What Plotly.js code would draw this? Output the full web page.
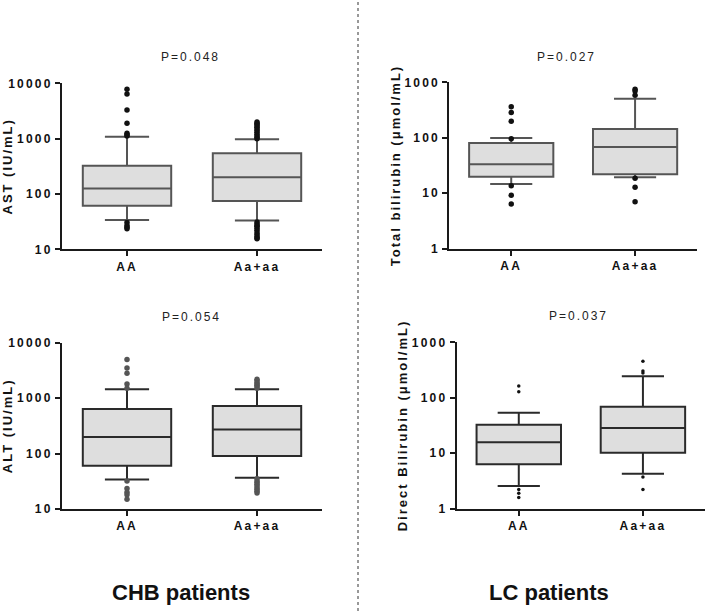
<!DOCTYPE html>
<html>
<head>
<meta charset="utf-8">
<script src="https://cdn.plot.ly/plotly-3.0.1.min.js"></script>
<style>
  html, body { margin: 0; padding: 0; background: #fff; }
  #chart { width: 709px; height: 611px; }
  .xtick text, .x2tick text, .x3tick text, .x4tick text,
  .ytick text, .y2tick text, .y3tick text, .y4tick text { letter-spacing: 2.2px; }
  .ytitle, .y2title, .y3title, .y4title { letter-spacing: 2px; }
  .annotation[data-index="0"] text, .annotation[data-index="1"] text,
  .annotation[data-index="2"] text, .annotation[data-index="3"] text { letter-spacing: 2px; }
</style>
</head>
<body>
<div id="chart"></div>
<script>
// ---- data ----
const categories = ["AA", "Aa+aa"];

// CHB patients: AST
const astQ1 = [61, 75];
const astMedian = [125, 200];
const astQ3 = [325, 543];
const astLower = [34, 33];
const astUpper = [1087, 973];
const astOutAA = [7800, 6400, 3300, 1890, 1250, 1180, 1120, 30.5, 27, 25, 23.5];
const astOutAa = [2000, 1900, 1800, 1700, 1600, 1500, 1400, 1300, 1200, 1120, 1050, 1000,
                  31, 29, 27, 26, 24, 22, 20, 18.5, 17, 16, 15.5];

// CHB patients: ALT
const altQ1 = [60, 90];
const altMedian = [199, 273];
const altQ3 = [635, 720];
const altLower = [34, 36.7];
const altUpper = [1440, 1440];
const altOutAA = [5000, 3500, 2800, 1800, 1500, 32, 23.5, 20, 18, 15];
const altOutAa = [2200, 2050, 1900, 1800, 1700, 1600, 1500,
                  35, 32, 30, 28, 26, 24, 22.5, 21, 19.5];

// LC patients: Total bilirubin
const tbQ1 = [19.9, 21.9];
const tbMedian = [33.2, 68];
const tbQ3 = [80.5, 144];
const tbLower = [14.7, 19.4];
const tbUpper = [99, 507];
const tbOutAA = [364, 284, 198, 96, 13.7, 9.2, 6.4];
const tbOutAa = [748, 698, 582, 18.6, 12.8, 7.05];

// LC patients: Direct bilirubin
const dbQ1 = [6.3, 10.2];
const dbMedian = [15.7, 28.5];
const dbQ3 = [32.7, 69];
const dbLower = [2.56, 4.28];
const dbUpper = [53.8, 244];
const dbOutAA = [163, 128, 2.23, 1.89, 1.6];
const dbOutAa = [454, 304, 280, 3.72, 2.23];

const pValues = ["P=0.048", "P=0.027", "P=0.054", "P=0.037"];
const yTitles = ["AST (IU/mL)", "Total bilirubin (\u03bcmol/mL)", "ALT (IU/mL)", "Direct Bilirubin (\u03bcmol/mL)"];
const groupLabels = ["CHB patients", "LC patients"];
const tickVals1 = [10, 100, 1000, 10000];
const tickText1 = ["10", "100", "1000", "10000"];
const tickVals2 = [1, 10, 100, 1000];
const tickText2 = ["1", "10", "100", "1000"];

// ---- traces ----
function boxTrace(q1, med, q3, lo, hi, xa, ya, lineColor) {
  return {
    type: "box", x: categories, q1: q1, median: med, q3: q3,
    lowerfence: lo, upperfence: hi, boxpoints: false,
    xaxis: xa, yaxis: ya, width: 0.68, whiskerwidth: 0.5,
    fillcolor: "#dedede", line: { color: lineColor, width: 2 },
    showlegend: false, hoverinfo: "skip"
  };
}
function rep(cat, arr) { return arr.map(() => cat); }
function outTrace(aa, aaa, xa, ya, color, size) {
  return {
    type: "scatter", mode: "markers",
    x: rep(categories[0], aa).concat(rep(categories[1], aaa)),
    y: aa.concat(aaa), xaxis: xa, yaxis: ya,
    marker: { color: color, size: size }, showlegend: false, hoverinfo: "skip"
  };
}

const data = [
  boxTrace(astQ1, astMedian, astQ3, astLower, astUpper, "x", "y", "#555"),
  outTrace(astOutAA, astOutAa, "x", "y", "#111", 5.5),
  boxTrace(tbQ1, tbMedian, tbQ3, tbLower, tbUpper, "x2", "y2", "#555"),
  outTrace(tbOutAA, tbOutAa, "x2", "y2", "#111", 5.5),
  boxTrace(altQ1, altMedian, altQ3, altLower, altUpper, "x3", "y3", "#2a2a2a"),
  outTrace(altOutAA, altOutAa, "x3", "y3", "#555", 5.5),
  boxTrace(dbQ1, dbMedian, dbQ3, dbLower, dbUpper, "x4", "y4", "#2a2a2a"),
  outTrace(dbOutAA, dbOutAa, "x4", "y4", "#111", 3.5)
];

// ---- layout ----
const tickFont = { family: "Liberation Sans, Arial, sans-serif", size: 12, color: "#111", weight: "bold" };
const titleFont = { family: "Liberation Sans, Arial, sans-serif", size: 13, color: "#111", weight: "bold" };
function xAxis(domain, anchor) {
  return {
    domain: domain, anchor: anchor, type: "category", range: [-0.5, 1.5],
    showline: true, linecolor: "#1a1a1a", linewidth: 2,
    ticks: "outside", ticklen: 5, tickwidth: 2, tickcolor: "#1a1a1a",
    showgrid: false, zeroline: false, tickfont: tickFont, fixedrange: true
  };
}
function yAxis(domain, anchor, range, tv, tt, title) {
  return {
    domain: domain, anchor: anchor, type: "log", range: range,
    tickmode: "array", tickvals: tv, ticktext: tt,
    showline: true, linecolor: "#1a1a1a", linewidth: 2,
    ticks: "outside", ticklen: 5, tickwidth: 2, tickcolor: "#1a1a1a",
    showgrid: false, zeroline: false, tickfont: tickFont,
    title: { text: title, font: titleFont, standoff: 1 }, fixedrange: true
  };
}

const W = 709, H = 611;
const layout = {
  width: W, height: H,
  margin: { l: 0, r: 0, t: 0, b: 0 },
  paper_bgcolor: "#fff", plot_bgcolor: "rgba(0,0,0,0)",
  showlegend: false,
  xaxis: xAxis([62 / W, 322 / W], "y"),
  yaxis: yAxis([1 - 249.3 / H, 1 - 83.3 / H], "x", [1, 4], tickVals1, tickText1, yTitles[0]),
  xaxis2: xAxis([449.3 / W, 697 / W], "y2"),
  yaxis2: yAxis([1 - 248.7 / H, 1 - 82.3 / H], "x2", [0, 3], tickVals2, tickText2, yTitles[1]),
  xaxis3: xAxis([62 / W, 322 / W], "y3"),
  yaxis3: yAxis([1 - 509 / H, 1 - 342.7 / H], "x3", [1, 4], tickVals1, tickText1, yTitles[2]),
  xaxis4: xAxis([456.7 / W, 705 / W], "y4"),
  yaxis4: yAxis([1 - 508.7 / H, 1 - 342.3 / H], "x4", [0, 3], tickVals2, tickText2, yTitles[3]),
  annotations: [
    { text: pValues[0], x: 190 / W, y: 1 - 57 / H },
    { text: pValues[1], x: 566 / W, y: 1 - 57 / H },
    { text: pValues[2], x: 191 / W, y: 1 - 316.5 / H },
    { text: pValues[3], x: 578 / W, y: 1 - 316 / H }
  ].map(a => Object.assign(a, {
    xref: "paper", yref: "paper", showarrow: false, xanchor: "center", yanchor: "middle",
    font: { family: "Liberation Sans, Arial, sans-serif", size: 12, color: "#222" }
  })).concat([
    { text: groupLabels[0], x: 181 / W, y: 1 - 592 / H },
    { text: groupLabels[1], x: 549 / W, y: 1 - 592 / H }
  ].map(a => Object.assign(a, {
    xref: "paper", yref: "paper", showarrow: false, xanchor: "center", yanchor: "middle",
    font: { family: "Liberation Sans, Arial, sans-serif", size: 22, color: "#111", weight: "bold" }
  }))),
  shapes: [
    { type: "line", xref: "paper", yref: "paper", x0: 358 / W, x1: 358 / W, y0: 0, y1: 1,
      line: { color: "#333", width: 1, dash: "3px,3px" } }
  ]
};

Plotly.newPlot("chart", data, layout, { displayModeBar: false, staticPlot: true });
</script>
</body>
</html>
